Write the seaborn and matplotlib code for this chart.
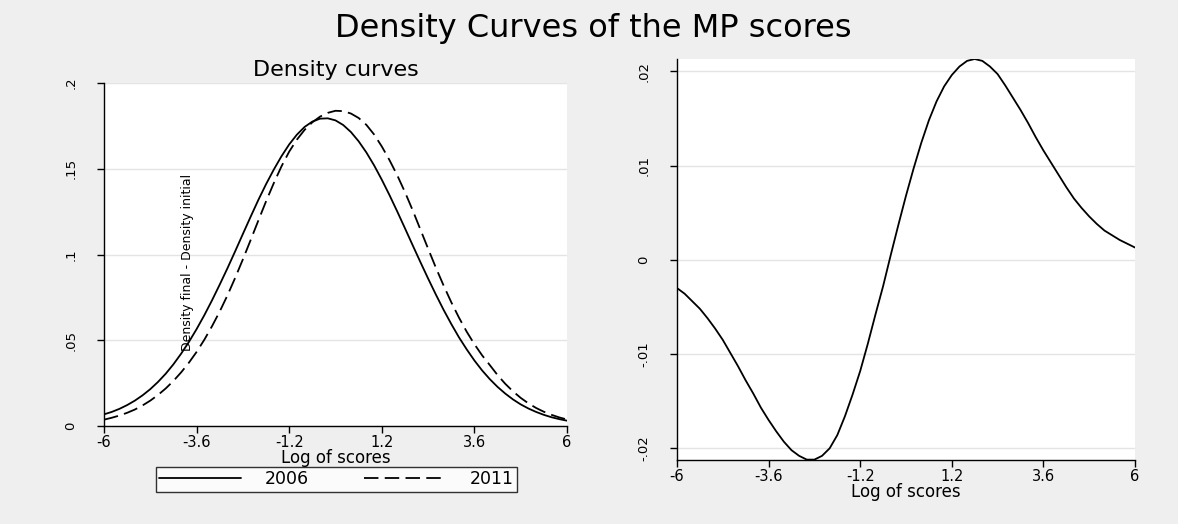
import pandas as pd
import seaborn as sns
import matplotlib.pyplot as plt
from matplotlib.lines import Line2D

# values (step 0.2 on log of scores)
x_vals = [-6.0, -5.8, -5.6, -5.4, -5.2, -5.0, -4.8, -4.6, -4.4, -4.2,
          -4.0, -3.8, -3.6, -3.4, -3.2, -3.0, -2.8, -2.6, -2.4, -2.2,
          -2.0, -1.8, -1.6, -1.4, -1.2, -1.0, -0.8, -0.6, -0.4, -0.2,
          0.0, 0.2, 0.4, 0.6, 0.8, 1.0, 1.2, 1.4, 1.6, 1.8,
          2.0, 2.2, 2.4, 2.6, 2.8, 3.0, 3.2, 3.4, 3.6, 3.8,
          4.0, 4.2, 4.4, 4.6, 4.8, 5.0, 5.2, 5.4, 5.6, 5.8, 6.0]
dens_2006 = [0.0068, 0.0082, 0.0100, 0.0122, 0.0148, 0.0179, 0.0215, 0.0257, 0.0305, 0.0360,
             0.0422, 0.0490, 0.0565, 0.0646, 0.0733, 0.0825, 0.0920, 0.1019, 0.1120, 0.1220,
             0.1318, 0.1410, 0.1495, 0.1573, 0.1642, 0.1699, 0.1744, 0.1775, 0.1792, 0.1794,
             0.1782, 0.1755, 0.1714, 0.1660, 0.1595, 0.1520, 0.1436, 0.1346, 0.1251, 0.1153,
             0.1054, 0.0956, 0.0860, 0.0767, 0.0678, 0.0595, 0.0517, 0.0447, 0.0382, 0.0324,
             0.0273, 0.0228, 0.0189, 0.0155, 0.0126, 0.0102, 0.0082, 0.0065, 0.0051, 0.0040, 0.0031]
dens_2011 = [0.0037, 0.0048, 0.0061, 0.0077, 0.0096, 0.0120, 0.0148, 0.0181, 0.0219, 0.0263,
             0.0313, 0.0369, 0.0432, 0.0503, 0.0582, 0.0668, 0.0762, 0.0864, 0.0972, 0.1084,
             0.1198, 0.1310, 0.1416, 0.1514, 0.1600, 0.1670, 0.1727, 0.1771, 0.1804, 0.1826,
             0.1838, 0.1836, 0.1822, 0.1796, 0.1756, 0.1700, 0.1630, 0.1550, 0.1462, 0.1364,
             0.1258, 0.1146, 0.1034, 0.0924, 0.0820, 0.0722, 0.0632, 0.0550, 0.0477, 0.0412,
             0.0355, 0.0297, 0.0246, 0.0202, 0.0164, 0.0132, 0.0105, 0.0083, 0.0065, 0.0050, 0.0038]
dens_diff = [-0.0030, -0.0036, -0.0044, -0.0052, -0.0062, -0.0073, -0.0085, -0.0099, -0.0113, -0.0128,
             -0.0142, -0.0157, -0.0170, -0.0182, -0.0193, -0.0202, -0.0208, -0.0212, -0.0212, -0.0208,
             -0.0200, -0.0186, -0.0166, -0.0143, -0.0118, -0.0089, -0.0058, -0.0028, 0.0005, 0.0037,
             0.0068, 0.0097, 0.0124, 0.0148, 0.0168, 0.0184, 0.0196, 0.0205, 0.0211, 0.0213,
             0.0211, 0.0205, 0.0197, 0.0185, 0.0172, 0.0159, 0.0145, 0.0130, 0.0116, 0.0103,
             0.0090, 0.0077, 0.0065, 0.0055, 0.0046, 0.0038, 0.0031, 0.0026, 0.0021, 0.0017, 0.0013]

years = ['2006', '2011']
x_ticks = [-6, -3.6, -1.2, 1.2, 3.6, 6]
x_tick_labels = ['-6', '-3.6', '-1.2', '1.2', '3.6', '6']
left_y_ticks = [0, 0.05, 0.1, 0.15, 0.2]
left_y_labels = ['0', '.05', '.1', '.15', '.2']
right_y_ticks = [-0.02, -0.01, 0, 0.01, 0.02]
right_y_labels = ['-.02', '-.01', '0', '.01', '.02']

sns.set_style('white')
plt.rcParams['font.family'] = ['DejaVu Sans']
plt.rcParams.update({'text.color': 'black', 'axes.labelcolor': 'black',
                     'xtick.color': 'black', 'ytick.color': 'black'})

df = pd.concat([
    pd.DataFrame({'x': x_vals, 'density': dens_2006, 'year': years[0]}),
    pd.DataFrame({'x': x_vals, 'density': dens_2011, 'year': years[1]}),
])
diff_df = pd.DataFrame({'x': x_vals, 'diff': dens_diff})

W, H = 1178, 524
fig = plt.figure(figsize=(W / 100, H / 100), dpi=100, facecolor='#efefef')
ax1 = fig.add_axes([104 / W, 1 - 426 / H, 463 / W, 343 / H])
ax2 = fig.add_axes([677 / W, 1 - 460 / H, 458 / W, 401 / H])

dash_2011 = (8, 3.5)
sns.lineplot(data=df, x='x', y='density', style='year', color='black', lw=1.3,
             dashes={'2006': '', '2011': dash_2011}, ax=ax1, legend=False)
sns.lineplot(data=diff_df, x='x', y='diff', color='black', lw=1.3, ax=ax2)

def style_axes(ax, yticks, ylabels, ylim):
    ax.set_facecolor('white')
    ax.set_xlim(-6, 6)
    ax.set_ylim(*ylim)
    ax.set_xticks(x_ticks)
    ax.set_xticklabels(x_tick_labels, fontsize=10.5)
    ax.set_yticks(yticks)
    ax.set_yticklabels(ylabels, fontsize=9.5, rotation=90, va='center')
    for s in ['top', 'right']:
        ax.spines[s].set_visible(False)
    for s in ['left', 'bottom']:
        ax.spines[s].set_color('black')
        ax.spines[s].set_linewidth(1.0)
    ax.tick_params(axis='x', bottom=True, direction='out', length=5, width=1, color='black', pad=1.5)
    ax.tick_params(axis='y', left=True, direction='out', length=5, width=1, color='black', pad=14)
    ax.yaxis.grid(True, color='#e4e4e4', lw=1)
    ax.xaxis.grid(False)
    ax.set_axisbelow(True)
    ax.set_xlabel('Log of scores', fontsize=12, labelpad=-1)
    ax.set_ylabel('')

style_axes(ax1, left_y_ticks, left_y_labels, (0, 0.2))
style_axes(ax2, right_y_ticks, right_y_labels, (-0.02124, 0.0213))

fig.text(593 / W, 1 - 37 / H, 'Density Curves of the MP scores', fontsize=23,
         ha='center', va='baseline')
fig.text(336 / W, 1 - 76 / H, 'Density curves', fontsize=16, ha='center', va='baseline')
fig.text(188 / W, 1 - 262 / H, 'Density final - Density initial', fontsize=9,
         rotation=90, ha='center', va='center')

handles = [Line2D([], [], color='black', lw=1.3),
           Line2D([], [], color='black', lw=1.3, dashes=dash_2011)]
leg = fig.legend(handles, years, loc='center', ncol=2, fontsize=12.5,
                 bbox_to_anchor=(147 / W, 1 - 492 / H, 379 / W, 25 / H), mode='expand',
                 handlelength=4.7, handletextpad=1.4, columnspacing=2.6,
                 borderpad=0.2, fancybox=False, frameon=True)
leg.get_frame().set_edgecolor('black')
leg.get_frame().set_linewidth(1.0)
leg.get_frame().set_facecolor('white')

fig.savefig('out.png', dpi=100, facecolor=fig.get_facecolor())
